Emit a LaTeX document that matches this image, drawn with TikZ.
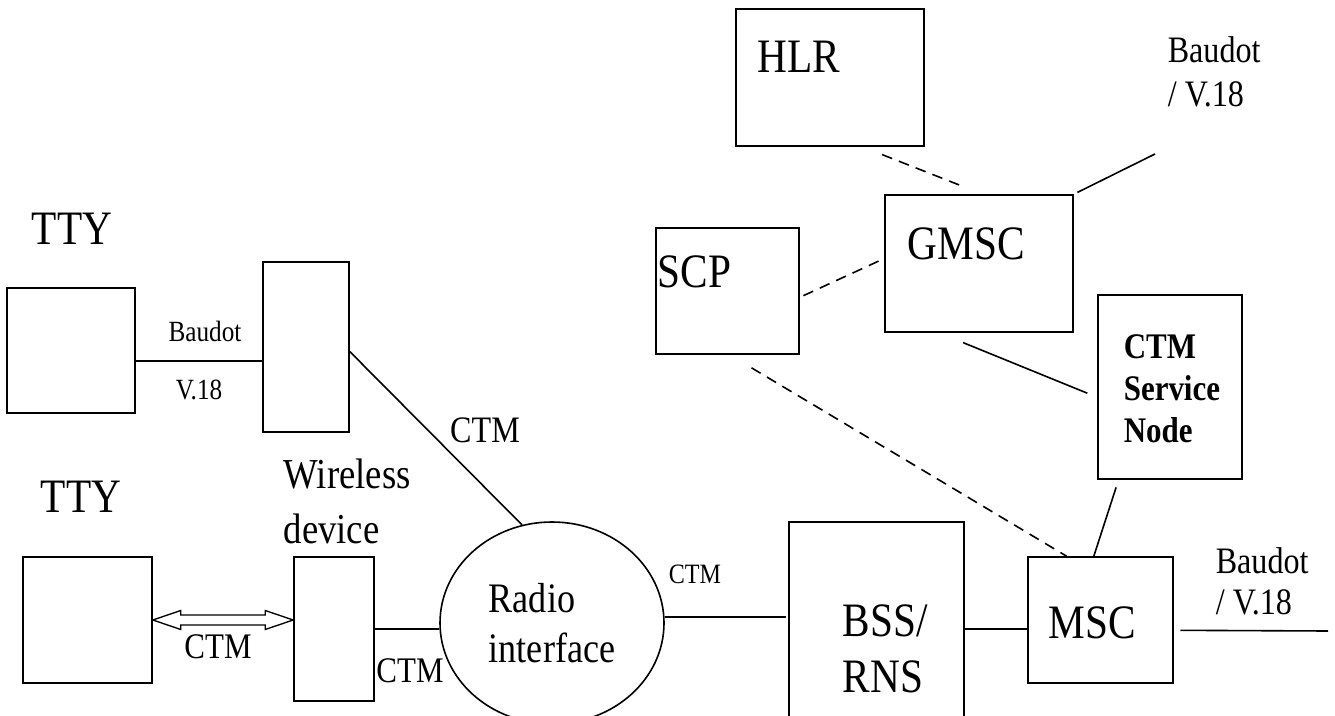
\documentclass[tikz,border=0pt]{standalone}
\usepackage{fontspec}
\setmainfont{Liberation Serif}[FakeStretch=0.86]
\usetikzlibrary{fit, calc, shapes.geometric}

\newcommand{\fsz}[2]{\fontsize{#1}{#2}\selectfont}

\begin{document}
\begin{tikzpicture}[x=0.75pt, y=-0.75pt, line width=1.2pt,
    box/.style={draw, inner sep=0pt},
    lbl/.style={inner sep=0pt, align=left},
    big/.style={font=\fsz{36}{42}},
    dashline/.style={dash pattern=on 8pt off 5.5pt}]
    \useasboundingbox (0,0) rectangle (1335,716);
    \fill[white] (0,0) rectangle (1335,716);
    \clip (0,0) rectangle (1335,716);

    \node[box, fit={(7,288) (135,413)}] (tty1) {};
    \node[lbl, big, anchor=base] (tty1lbl) at (72,245) {TTY};
    \node[box, fit={(263,262) (349,432)}] (dev1) {};
    \node[box, fit={(23,557) (152,683)}] (tty2) {};
    \node[lbl, big, anchor=base] (tty2lbl) at (81,512) {TTY};
    \node[box, fit={(294,557) (374,701)}] (dev2) {};
    \node[lbl, anchor=north west, font=\fsz{32}{41}] (dev2lbl) at (283,458) {Wireless\\device};
    \node[draw, ellipse, minimum width=168pt, minimum height=151.5pt, inner sep=0pt,
        align=left, font=\fsz{31.5}{37.5}] (radio) at (552,623) {Radio\\interface};
    \node[box, fit={(789,522) (964,776)}] (bss) {};
    \node[lbl, big, anchor=north west] (bsslbl) at (842,604) {BSS/\\RNS};
    \node[box, fit={(1028,557) (1173,683)}] (msc) {};
    \node[lbl, big, anchor=base west] (msclbl) at (1048,638) {MSC};
    \node[box, fit={(1098,295) (1242,479)}] (ctmsn) {};
    \node[lbl, anchor=north west, font=\bfseries\fsz{27}{31.5}] (ctmsnlbl) at (1123,334) {CTM\\Service\\Node};
    \node[box, fit={(885,195) (1073,332)}] (gmsc) {};
    \node[lbl, big, anchor=base west] (gmsclbl) at (907,260) {GMSC};
    \node[box, fit={(656,228) (799,354)}] (scp) {};
    \node[lbl, big, anchor=base west] (scplbl) at (657,288) {SCP};
    \node[box, fit={(736,9) (924,146)}] (hlr) {};
    \node[lbl, big, anchor=base west] (hlrlbl) at (757,73) {HLR};

    \coordinate (pstnR) at (1328,631);
    \coordinate (pstnT) at (1155,154);

    \node[lbl, anchor=base, font=\fsz{22}{26}] (baudL) at (205,342) {Baudot};
    \node[lbl, anchor=base, font=\fsz{22}{26}] (v18L) at (199,400) {V.18};
    \node[lbl, anchor=base, font=\fsz{28}{33}] (ctmA) at (485,442) {CTM};
    \node[lbl, anchor=base, font=\fsz{27}{32}] (ctmB) at (218,658) {CTM};
    \node[lbl, anchor=base, font=\fsz{27}{32}] (ctmC) at (410,682) {CTM};
    \node[lbl, anchor=base, font=\fsz{21}{25}] (ctmD) at (695,583) {CTM};
    \node[lbl, anchor=north west, font=\fsz{28}{30.75}] (baudR) at (1215,546.5) {Baudot\\/ V.18};
    \node[lbl, anchor=north west, font=\fsz{28}{33}] (baudT) at (1167,35.5) {Baudot\\/ V.18};

    \draw (tty1.-9.3) -- (tty1.-9.3 -| dev1.west);
    \draw (dev1.-6.6) -- (radio.107);
    \draw (dev2.east) -- (dev2.east -| radio.west);
    \draw[line width=1pt] (tty2.east) -- ++(28,-9.5) -- ++(0,4.5)
        -- ($(dev2.west |- tty2.east)+(-28,-5)$) -- ++(0,-4.5) -- (dev2.west |- tty2.east)
        -- ++(-28,9.5) -- ++(0,-4.5) -- ($(tty2.east)+(28,5)$) -- ++(0,4.5) -- cycle;
    \draw[shorten >=2pt] (radio.3.6) -- (radio.3.6 -| bss.west);
    \draw (msc.187.1) -- (msc.187.1 -| bss.east);
    \draw[shorten <=5pt] (msc.-8.6) -- (pstnR);
    \draw[shorten <=6pt] (ctmsn.-119.5) -- (msc.96);
    \draw[shorten <=19.5pt, shorten >=8pt] (gmsc.-120.9) -- (ctmsn.188.7);
    \draw[dashline, shorten <=16pt, shorten >=14pt] (hlr.-65.7) -- (gmsc.87.5);
    \draw[dashline, shorten <=3pt, shorten >=2pt] (scp.-5.6) -- (gmsc.177);
    \draw[dashline, shorten <=19pt] (scp.-88.6) -- (msc.118);
    \draw[shorten <=3pt] (gmsc.north east) -- (pstnT);
\end{tikzpicture}
\end{document}
